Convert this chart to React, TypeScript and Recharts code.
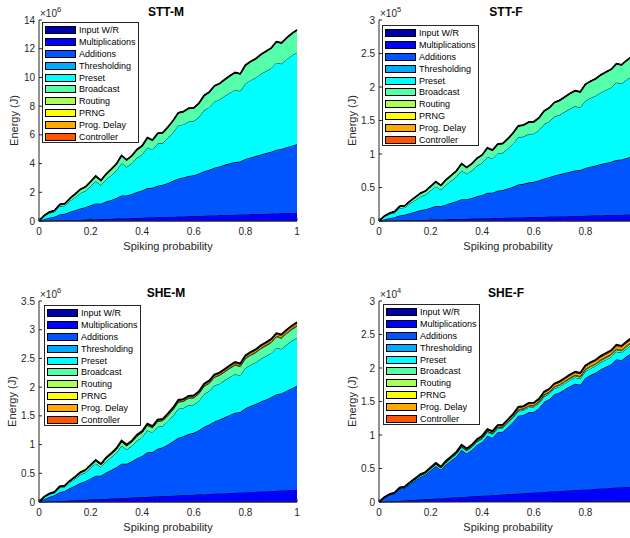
import { Area, AreaChart, XAxis, YAxis } from "recharts";

const FONT = "'Liberation Sans', Arial, Helvetica, sans-serif";
const INK = "#262626";

const probability = [0, 0.02, 0.04, 0.06, 0.08, 0.1, 0.12, 0.14, 0.16, 0.18, 0.2, 0.22, 0.24, 0.26, 0.28, 0.3, 0.32, 0.34, 0.36, 0.38, 0.4, 0.42, 0.44, 0.46, 0.48, 0.5, 0.52, 0.54, 0.56, 0.58, 0.6, 0.62, 0.64, 0.66, 0.68, 0.7, 0.72, 0.74, 0.76, 0.78, 0.8, 0.82, 0.84, 0.86, 0.88, 0.9, 0.92, 0.94, 0.96, 0.98, 1];
const xTicksFull = [0, 0.2, 0.4, 0.6, 0.8, 1];
// the right-hand panels are cut at the figure edge before x = 1
const xTicksCut = [0, 0.2, 0.4, 0.6, 0.8];

const seriesNames = ["Input W/R", "Multiplications", "Additions", "Thresholding", "Preset", "Broadcast", "Routing", "PRNG", "Prog. Delay", "Controller"];
const seriesColors = ["#0000AA", "#0000FF", "#0055FF", "#00AAFF", "#00FFFF", "#55FFAA", "#AAFF55", "#FFFF00", "#FFAA00", "#FF5500"];

const noEnergy = [0, 0, 0, 0, 0, 0, 0, 0, 0, 0, 0, 0, 0, 0, 0, 0, 0, 0, 0, 0, 0, 0, 0, 0, 0, 0, 0, 0, 0, 0, 0, 0, 0, 0, 0, 0, 0, 0, 0, 0, 0, 0, 0, 0, 0, 0, 0, 0, 0, 0, 0];

// STT-M, x10^6 J
const sttmMult = [0, 0.01, 0.02, 0.03, 0.05, 0.06, 0.07, 0.08, 0.09, 0.1, 0.12, 0.13, 0.14, 0.15, 0.16, 0.17, 0.19, 0.2, 0.21, 0.22, 0.23, 0.24, 0.26, 0.27, 0.28, 0.29, 0.3, 0.31, 0.32, 0.34, 0.35, 0.36, 0.37, 0.38, 0.39, 0.41, 0.42, 0.43, 0.44, 0.45, 0.46, 0.48, 0.49, 0.5, 0.51, 0.52, 0.53, 0.55, 0.56, 0.57, 0.58];
const sttmAdd = [0, 0.12, 0.21, 0.27, 0.4, 0.45, 0.57, 0.67, 0.78, 0.86, 0.97, 1.09, 1.07, 1.2, 1.31, 1.43, 1.59, 1.57, 1.67, 1.8, 1.89, 2.05, 2.05, 2.19, 2.24, 2.36, 2.5, 2.65, 2.71, 2.79, 2.84, 2.95, 3.1, 3.19, 3.32, 3.39, 3.49, 3.59, 3.67, 3.7, 3.86, 3.95, 4.03, 4.13, 4.22, 4.31, 4.44, 4.46, 4.58, 4.68, 4.77];
const sttmPreset = [0, 0.21, 0.32, 0.34, 0.57, 0.56, 0.76, 0.91, 1.07, 1.14, 1.34, 1.54, 1.28, 1.54, 1.72, 1.91, 2.25, 1.99, 2.14, 2.38, 2.51, 2.83, 2.66, 2.93, 2.91, 3.13, 3.38, 3.7, 3.7, 3.8, 3.77, 3.93, 4.25, 4.36, 4.6, 4.66, 4.79, 4.92, 5.02, 4.9, 5.26, 5.38, 5.46, 5.61, 5.71, 5.81, 6.06, 5.94, 6.13, 6.28, 6.39];
const sttmBroadcast = [0, 0.04, 0.07, 0.09, 0.13, 0.14, 0.18, 0.22, 0.26, 0.28, 0.32, 0.37, 0.33, 0.38, 0.42, 0.47, 0.53, 0.5, 0.53, 0.58, 0.61, 0.68, 0.66, 0.71, 0.72, 0.77, 0.82, 0.88, 0.89, 0.92, 0.92, 0.96, 1.02, 1.05, 1.1, 1.12, 1.15, 1.18, 1.21, 1.2, 1.27, 1.3, 1.32, 1.36, 1.38, 1.41, 1.46, 1.45, 1.49, 1.53, 1.56];

// STT-F, x10^5 J
const sttfMult = [0, 0.002, 0.004, 0.006, 0.008, 0.01, 0.012, 0.014, 0.016, 0.018, 0.02, 0.022, 0.024, 0.026, 0.028, 0.03, 0.032, 0.034, 0.036, 0.038, 0.04, 0.042, 0.044, 0.046, 0.048, 0.05, 0.052, 0.054, 0.056, 0.058, 0.06, 0.062, 0.064, 0.066, 0.068, 0.07, 0.072, 0.074, 0.076, 0.078, 0.08, 0.082, 0.084, 0.086, 0.088, 0.09, 0.092, 0.094, 0.096, 0.098, 0.1];
const sttfAdd = [0, 0.022, 0.038, 0.051, 0.074, 0.084, 0.105, 0.124, 0.143, 0.158, 0.179, 0.201, 0.198, 0.222, 0.243, 0.264, 0.292, 0.289, 0.308, 0.332, 0.349, 0.378, 0.379, 0.404, 0.414, 0.436, 0.461, 0.489, 0.499, 0.515, 0.524, 0.544, 0.572, 0.588, 0.612, 0.626, 0.644, 0.661, 0.678, 0.682, 0.712, 0.729, 0.744, 0.763, 0.779, 0.795, 0.819, 0.823, 0.844, 0.863, 0.88];
const sttfPreset = [0, 0.039, 0.06, 0.066, 0.109, 0.108, 0.144, 0.173, 0.204, 0.218, 0.256, 0.293, 0.245, 0.294, 0.328, 0.365, 0.428, 0.38, 0.409, 0.454, 0.479, 0.54, 0.507, 0.559, 0.556, 0.597, 0.645, 0.706, 0.705, 0.725, 0.719, 0.75, 0.811, 0.831, 0.878, 0.889, 0.914, 0.939, 0.958, 0.936, 1.003, 1.025, 1.041, 1.07, 1.089, 1.108, 1.155, 1.134, 1.169, 1.198, 1.22];
const sttfBroadcast = [0, 0.009, 0.014, 0.017, 0.026, 0.028, 0.036, 0.042, 0.05, 0.054, 0.062, 0.07, 0.064, 0.074, 0.082, 0.09, 0.103, 0.096, 0.103, 0.112, 0.118, 0.131, 0.127, 0.138, 0.139, 0.148, 0.158, 0.17, 0.172, 0.177, 0.178, 0.185, 0.197, 0.203, 0.212, 0.216, 0.222, 0.228, 0.233, 0.231, 0.245, 0.25, 0.255, 0.262, 0.267, 0.272, 0.282, 0.28, 0.288, 0.294, 0.3];

// SHE-M, x10^6 J
const shemMult = [0, 0.004, 0.009, 0.013, 0.017, 0.021, 0.026, 0.03, 0.034, 0.039, 0.043, 0.047, 0.051, 0.056, 0.06, 0.064, 0.068, 0.073, 0.077, 0.081, 0.086, 0.09, 0.094, 0.098, 0.103, 0.107, 0.111, 0.116, 0.12, 0.124, 0.128, 0.133, 0.137, 0.141, 0.146, 0.15, 0.154, 0.158, 0.163, 0.167, 0.171, 0.175, 0.18, 0.184, 0.188, 0.193, 0.197, 0.201, 0.205, 0.21, 0.214];
const shemAdd = [0, 0.045, 0.079, 0.104, 0.151, 0.172, 0.216, 0.254, 0.295, 0.324, 0.368, 0.412, 0.405, 0.456, 0.498, 0.541, 0.6, 0.593, 0.632, 0.681, 0.717, 0.775, 0.777, 0.829, 0.849, 0.895, 0.946, 1.003, 1.024, 1.058, 1.076, 1.116, 1.174, 1.207, 1.257, 1.285, 1.321, 1.358, 1.391, 1.399, 1.461, 1.496, 1.527, 1.566, 1.598, 1.632, 1.681, 1.69, 1.732, 1.771, 1.806];
const shemPreset = [0, 0.033, 0.046, 0.042, 0.079, 0.069, 0.099, 0.12, 0.144, 0.149, 0.181, 0.212, 0.15, 0.194, 0.221, 0.251, 0.31, 0.248, 0.269, 0.309, 0.326, 0.383, 0.337, 0.384, 0.371, 0.406, 0.448, 0.505, 0.494, 0.506, 0.49, 0.514, 0.571, 0.583, 0.624, 0.626, 0.643, 0.66, 0.672, 0.638, 0.701, 0.716, 0.723, 0.745, 0.755, 0.767, 0.808, 0.775, 0.804, 0.825, 0.84];
const shemBroadcast = [0, 0.006, 0.009, 0.011, 0.017, 0.018, 0.024, 0.028, 0.033, 0.036, 0.041, 0.047, 0.042, 0.049, 0.054, 0.06, 0.068, 0.064, 0.068, 0.075, 0.079, 0.087, 0.085, 0.092, 0.092, 0.099, 0.105, 0.114, 0.115, 0.118, 0.119, 0.123, 0.132, 0.135, 0.142, 0.144, 0.148, 0.152, 0.156, 0.154, 0.163, 0.167, 0.17, 0.174, 0.178, 0.181, 0.188, 0.186, 0.192, 0.196, 0.2];
const shemRouting = [0, 0, 0, 0.001, 0.001, 0.001, 0.001, 0.001, 0.002, 0.002, 0.002, 0.002, 0.002, 0.002, 0.003, 0.003, 0.003, 0.003, 0.003, 0.004, 0.004, 0.004, 0.004, 0.005, 0.005, 0.005, 0.005, 0.006, 0.006, 0.006, 0.006, 0.006, 0.007, 0.007, 0.007, 0.007, 0.007, 0.008, 0.008, 0.008, 0.008, 0.008, 0.008, 0.009, 0.009, 0.009, 0.009, 0.009, 0.01, 0.01, 0.01];
const shemPrng = [0, 0, 0, 0.001, 0.001, 0.001, 0.001, 0.001, 0.002, 0.002, 0.002, 0.002, 0.002, 0.002, 0.003, 0.003, 0.003, 0.003, 0.003, 0.004, 0.004, 0.004, 0.004, 0.005, 0.005, 0.005, 0.005, 0.006, 0.006, 0.006, 0.006, 0.006, 0.007, 0.007, 0.007, 0.007, 0.007, 0.008, 0.008, 0.008, 0.008, 0.008, 0.008, 0.009, 0.009, 0.009, 0.009, 0.009, 0.01, 0.01, 0.01];
const shemProgDelay = [0, 0.001, 0.001, 0.002, 0.003, 0.003, 0.004, 0.004, 0.005, 0.005, 0.006, 0.007, 0.006, 0.007, 0.008, 0.009, 0.01, 0.01, 0.01, 0.011, 0.012, 0.013, 0.013, 0.014, 0.014, 0.015, 0.016, 0.017, 0.017, 0.018, 0.018, 0.018, 0.02, 0.02, 0.021, 0.022, 0.022, 0.023, 0.023, 0.023, 0.024, 0.025, 0.025, 0.026, 0.027, 0.027, 0.028, 0.028, 0.029, 0.029, 0.03];
const shemController = [0, 0.001, 0.001, 0.001, 0.002, 0.002, 0.002, 0.003, 0.003, 0.004, 0.004, 0.005, 0.004, 0.005, 0.005, 0.006, 0.007, 0.006, 0.007, 0.007, 0.008, 0.009, 0.008, 0.009, 0.009, 0.01, 0.011, 0.011, 0.011, 0.012, 0.012, 0.012, 0.013, 0.014, 0.014, 0.014, 0.015, 0.015, 0.016, 0.015, 0.016, 0.017, 0.017, 0.017, 0.018, 0.018, 0.019, 0.019, 0.019, 0.02, 0.02];

// SHE-F, x10^4 J
const shefInput = [0, 0, 0.001, 0.001, 0.002, 0.002, 0.002, 0.003, 0.003, 0.004, 0.004, 0.004, 0.005, 0.005, 0.006, 0.006, 0.006, 0.007, 0.007, 0.008, 0.008, 0.008, 0.009, 0.009, 0.01, 0.01, 0.01, 0.011, 0.011, 0.012, 0.012, 0.012, 0.013, 0.013, 0.014, 0.014, 0.014, 0.015, 0.015, 0.016, 0.016, 0.016, 0.017, 0.017, 0.018, 0.018, 0.018, 0.019, 0.019, 0.02, 0.02];
const shefMult = [0, 0.004, 0.009, 0.013, 0.017, 0.022, 0.026, 0.03, 0.034, 0.039, 0.043, 0.047, 0.052, 0.056, 0.06, 0.065, 0.069, 0.073, 0.077, 0.082, 0.086, 0.09, 0.095, 0.099, 0.103, 0.108, 0.112, 0.116, 0.12, 0.125, 0.129, 0.133, 0.138, 0.142, 0.146, 0.151, 0.155, 0.159, 0.163, 0.168, 0.172, 0.176, 0.181, 0.185, 0.189, 0.194, 0.198, 0.202, 0.206, 0.211, 0.215];
const shefAdd = [0, 0.06, 0.096, 0.112, 0.178, 0.185, 0.242, 0.288, 0.338, 0.364, 0.422, 0.481, 0.425, 0.499, 0.552, 0.609, 0.701, 0.645, 0.692, 0.761, 0.802, 0.891, 0.856, 0.933, 0.937, 1.0, 1.073, 1.162, 1.169, 1.204, 1.204, 1.254, 1.343, 1.378, 1.448, 1.471, 1.512, 1.553, 1.588, 1.566, 1.664, 1.702, 1.731, 1.778, 1.811, 1.845, 1.916, 1.895, 1.95, 1.997, 2.035];
const shefPreset = [0, 0.003, 0.006, 0.007, 0.01, 0.011, 0.014, 0.017, 0.02, 0.021, 0.025, 0.028, 0.025, 0.03, 0.033, 0.036, 0.041, 0.038, 0.041, 0.045, 0.047, 0.052, 0.051, 0.055, 0.055, 0.059, 0.063, 0.068, 0.069, 0.071, 0.071, 0.074, 0.079, 0.081, 0.085, 0.086, 0.089, 0.091, 0.093, 0.092, 0.098, 0.1, 0.102, 0.105, 0.107, 0.109, 0.113, 0.112, 0.115, 0.118, 0.12];
const shefBroadcast = [0, 0.001, 0.001, 0.002, 0.003, 0.003, 0.004, 0.004, 0.005, 0.005, 0.006, 0.007, 0.006, 0.007, 0.008, 0.009, 0.01, 0.01, 0.01, 0.011, 0.012, 0.013, 0.013, 0.014, 0.014, 0.015, 0.016, 0.017, 0.017, 0.018, 0.018, 0.018, 0.02, 0.02, 0.021, 0.022, 0.022, 0.023, 0.023, 0.023, 0.024, 0.025, 0.025, 0.026, 0.027, 0.027, 0.028, 0.028, 0.029, 0.029, 0.03];
const shefRouting = [0, 0, 0, 0.001, 0.001, 0.001, 0.001, 0.001, 0.002, 0.002, 0.002, 0.002, 0.002, 0.002, 0.003, 0.003, 0.003, 0.003, 0.003, 0.004, 0.004, 0.004, 0.004, 0.005, 0.005, 0.005, 0.005, 0.006, 0.006, 0.006, 0.006, 0.006, 0.007, 0.007, 0.007, 0.007, 0.007, 0.008, 0.008, 0.008, 0.008, 0.008, 0.008, 0.009, 0.009, 0.009, 0.009, 0.009, 0.01, 0.01, 0.01];
const shefPrng = [0, 0, 0, 0.001, 0.001, 0.001, 0.001, 0.001, 0.002, 0.002, 0.002, 0.002, 0.002, 0.002, 0.003, 0.003, 0.003, 0.003, 0.003, 0.004, 0.004, 0.004, 0.004, 0.005, 0.005, 0.005, 0.005, 0.006, 0.006, 0.006, 0.006, 0.006, 0.007, 0.007, 0.007, 0.007, 0.007, 0.008, 0.008, 0.008, 0.008, 0.008, 0.008, 0.009, 0.009, 0.009, 0.009, 0.009, 0.01, 0.01, 0.01];
const shefProgDelay = [0, 0.001, 0.002, 0.002, 0.003, 0.004, 0.005, 0.006, 0.007, 0.007, 0.008, 0.009, 0.008, 0.01, 0.011, 0.012, 0.014, 0.013, 0.014, 0.015, 0.016, 0.017, 0.017, 0.018, 0.018, 0.02, 0.021, 0.023, 0.023, 0.024, 0.024, 0.025, 0.026, 0.027, 0.028, 0.029, 0.03, 0.03, 0.031, 0.031, 0.033, 0.033, 0.034, 0.035, 0.036, 0.036, 0.038, 0.037, 0.038, 0.039, 0.04];
const shefController = [0, 0.001, 0.001, 0.001, 0.002, 0.002, 0.002, 0.003, 0.003, 0.004, 0.004, 0.005, 0.004, 0.005, 0.005, 0.006, 0.007, 0.006, 0.007, 0.007, 0.008, 0.009, 0.008, 0.009, 0.009, 0.01, 0.011, 0.011, 0.011, 0.012, 0.012, 0.012, 0.013, 0.014, 0.014, 0.014, 0.015, 0.015, 0.016, 0.015, 0.016, 0.017, 0.017, 0.017, 0.018, 0.018, 0.019, 0.019, 0.019, 0.02, 0.02];

const PLOT_W = 258;
const PLOT_H = 201;
const AXIS_W = 40;
const TOP_M = 10;
const RIGHT_M = 10;
const X_AXIS_H = 30;

type PanelSpec = {
  title: string;
  exponent: string;
  yMax: number;
  yTicks: number[];
  xTicks: number[];
  plotLeft: number;
  plotTop: number;
  legendLeft: number;
  legendTop: number;
  yLabelX: number;
  series: number[][];
};

const panels: PanelSpec[] = [
  {
    title: "STT-M", exponent: "6", yMax: 14, yTicks: [0, 2, 4, 6, 8, 10, 12, 14], xTicks: xTicksFull,
    plotLeft: 39, plotTop: 20, legendLeft: 42, legendTop: 22, yLabelX: 13.5,
    series: [noEnergy, sttmMult, sttmAdd, noEnergy, sttmPreset, sttmBroadcast, noEnergy, noEnergy, noEnergy, noEnergy]
  },
  {
    title: "STT-F", exponent: "5", yMax: 3, yTicks: [0, 0.5, 1, 1.5, 2, 2.5, 3], xTicks: xTicksCut,
    plotLeft: 379, plotTop: 20, legendLeft: 382, legendTop: 25, yLabelX: 352,
    series: [noEnergy, sttfMult, sttfAdd, noEnergy, sttfPreset, sttfBroadcast, noEnergy, noEnergy, noEnergy, noEnergy]
  },
  {
    title: "SHE-M", exponent: "6", yMax: 3.5, yTicks: [0, 0.5, 1, 1.5, 2, 2.5, 3, 3.5], xTicks: xTicksFull,
    plotLeft: 39, plotTop: 301, legendLeft: 44, legendTop: 305, yLabelX: 12,
    series: [noEnergy, shemMult, shemAdd, noEnergy, shemPreset, shemBroadcast, shemRouting, shemPrng, shemProgDelay, shemController]
  },
  {
    title: "SHE-F", exponent: "4", yMax: 3, yTicks: [0, 0.5, 1, 1.5, 2, 2.5, 3], xTicks: xTicksCut,
    plotLeft: 379, plotTop: 301, legendLeft: 383, legendTop: 304, yLabelX: 352,
    series: [shefInput, shefMult, shefAdd, noEnergy, shefPreset, shefBroadcast, shefRouting, shefPrng, shefProgDelay, shefController]
  }
];

const tickStyle = { fill: INK, fontSize: 10, fontFamily: FONT };

function EnergyPanel({ spec }: { spec: PanelSpec }) {
  const rows = probability.map((p, i) => {
    const row: Record<string, number> = { p };
    spec.series.forEach((values, s) => {
      row[`s${s}`] = values[i] ?? 0;
    });
    return row;
  });

  return (
    <div style={{ position: "absolute", left: spec.plotLeft - AXIS_W, top: spec.plotTop - TOP_M }}>
      <AreaChart
        width={AXIS_W + PLOT_W + RIGHT_M}
        height={TOP_M + PLOT_H + X_AXIS_H}
        data={rows}
        margin={{ top: TOP_M, right: RIGHT_M, bottom: 0, left: 0 }}
      >
        <XAxis
          dataKey="p"
          type="number"
          domain={[0, 1]}
          ticks={spec.xTicks}
          interval={0}
          height={X_AXIS_H}
          tickSize={-3}
          tickMargin={10}
          stroke={INK}
          tick={tickStyle}
        />
        <XAxis
          xAxisId="top"
          orientation="top"
          dataKey="p"
          type="number"
          domain={[0, 1]}
          ticks={spec.xTicks}
          interval={0}
          height={0}
          tickSize={-3}
          tick={false}
          stroke={INK}
        />
        <YAxis
          type="number"
          domain={[0, spec.yMax]}
          ticks={spec.yTicks}
          interval={0}
          width={AXIS_W}
          tickSize={-3}
          tickMargin={7}
          stroke={INK}
          tick={tickStyle}
        />
        <YAxis
          yAxisId="right"
          orientation="right"
          type="number"
          domain={[0, spec.yMax]}
          ticks={spec.yTicks}
          interval={0}
          width={0}
          tickSize={-3}
          tick={false}
          stroke={INK}
        />
        {seriesNames.map((name, s) => (
          <Area
            key={name}
            dataKey={`s${s}`}
            name={name}
            stackId="energy"
            type="linear"
            fill={seriesColors[s]}
            fillOpacity={1}
            stroke="#000"
            strokeWidth={s === seriesNames.length - 1 ? 1.8 : 0.9}
            dot={false}
            activeDot={false}
            isAnimationActive={false}
          />
        ))}
      </AreaChart>
    </div>
  );
}

function PanelLegend({ spec }: { spec: PanelSpec }) {
  return (
    <div
      style={{
        position: "absolute",
        left: spec.legendLeft,
        top: spec.legendTop,
        width: 97,
        height: 121,
        boxSizing: "border-box",
        border: `1px solid ${INK}`,
        background: "#fff",
        paddingTop: 1
      }}
    >
      {seriesNames.map((name, s) => (
        <div key={name} style={{ height: 11.9, display: "flex", alignItems: "center" }}>
          <div
            style={{
              width: 31,
              height: 8,
              marginLeft: 2,
              boxSizing: "border-box",
              border: "1px solid #000",
              background: seriesColors[s]
            }}
          />
          <span style={{ marginLeft: 3, fontFamily: FONT, fontSize: 9, color: "#000", whiteSpace: "nowrap" }}>
            {name}
          </span>
        </div>
      ))}
    </div>
  );
}

function PanelText({ spec }: { spec: PanelSpec }) {
  const bottom = spec.plotTop + PLOT_H;
  const midY = spec.plotTop + PLOT_H / 2;
  return (
    <g fontFamily={FONT}>
      <text x={spec.plotLeft + 127} y={spec.plotTop - 4} textAnchor="middle" fontSize={12} fontWeight="bold" fill="#000">
        {spec.title}
      </text>
      <text x={spec.plotLeft + 1} y={spec.plotTop - 3.5} fontSize={10} fill={INK}>
        ×10
        <tspan dy={-4.5} fontSize={7.5}>
          {spec.exponent}
        </tspan>
      </text>
      <text
        transform={`translate(${spec.yLabelX},${midY}) rotate(-90)`}
        textAnchor="middle"
        dominantBaseline="central"
        fontSize={11}
        fill={INK}
      >
        Energy (J)
      </text>
      <text x={spec.plotLeft + 129} y={bottom + 29} textAnchor="middle" fontSize={11} fill={INK}>
        Spiking probability
      </text>
    </g>
  );
}

export default function App() {
  return (
    <div
      style={{
        position: "fixed",
        left: 0,
        top: 0,
        width: 630,
        height: 538,
        overflow: "hidden",
        background: "#fff"
      }}
    >
      {panels.map((spec) => (
        <EnergyPanel key={spec.title} spec={spec} />
      ))}
      <svg width={630} height={538} style={{ position: "absolute", left: 0, top: 0, pointerEvents: "none" }}>
        {panels.map((spec) => (
          <PanelText key={spec.title} spec={spec} />
        ))}
      </svg>
      {panels.map((spec) => (
        <PanelLegend key={spec.title} spec={spec} />
      ))}
    </div>
  );
}
